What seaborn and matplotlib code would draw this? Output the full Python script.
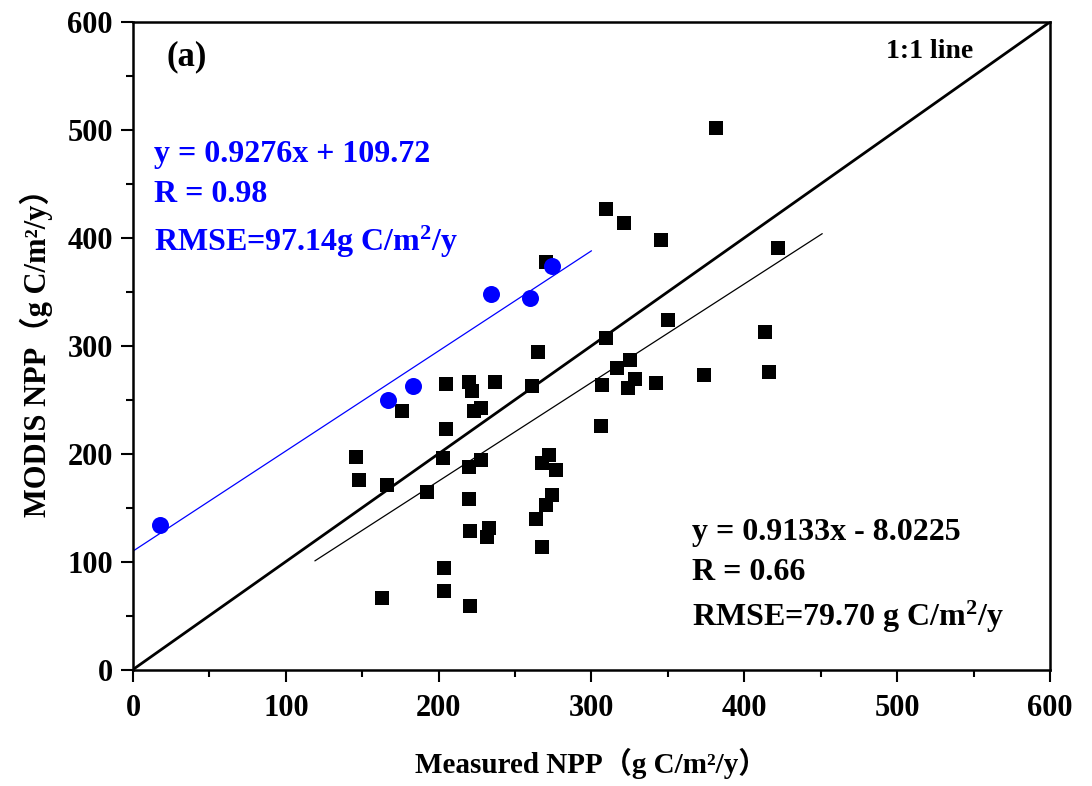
import numpy as np
import pandas as pd
import matplotlib
matplotlib.use("Agg")
import matplotlib.pyplot as plt
import seaborn as sns
from matplotlib.ticker import MultipleLocator

# ---- data ----
blue_x = [17.5, 167, 183, 234, 259.6, 274]
blue_y = [134, 250, 263, 347.7, 344, 373.7]

black_x = [381.7, 309.8, 321.6, 345.7, 422, 270, 350.3, 413.6, 309.2, 264.8,
           324.9, 316.4, 328.8, 323.6, 341.9, 306.6, 373.8, 416.2, 261, 236.7,
           219.8, 221.7, 204.7, 176, 227.6, 223, 204.7, 306, 146, 202.8,
           227.6, 219.8, 272, 267.4, 276.6, 148, 166.3, 192.4, 274, 270,
           219.8, 263.5, 232.8, 220.4, 231.5, 267.4, 203.5, 203.5, 163, 220.4]
black_y = [501.9, 426.6, 413.6, 397.8, 390.4, 377.4, 323.6, 312.4, 306.9, 293.9,
           286.5, 279.1, 268.9, 260.5, 265.2, 263.4, 272.7, 275.5, 262.3, 266,
           266, 257.7, 264.2, 240, 241.9, 239.1, 223.1, 226, 197.3, 196.4,
           194.5, 188, 199.2, 191.7, 185.2, 175.9, 171.3, 164.8, 162, 152.7,
           158.3, 139.8, 131.5, 128.7, 123, 113.7, 94.2, 72.8, 66.3, 59]

blue_fit = (0.9276, 109.72)
blue_fit_range = [0, 300]
black_fit = (0.9133, -8.0225)
black_fit_range = [119, 451]
one_one = [0, 600]

ticks = [0, 100, 200, 300, 400, 500, 600]

# ---- style ----
sns.set_theme(style="ticks")
plt.rcParams['font.family'] = ['Liberation Serif', 'Noto Sans CJK SC', 'DejaVu Sans']
plt.rcParams['font.weight'] = 'bold'
plt.rcParams['mathtext.default'] = 'regular'
for k in ['text.color', 'axes.labelcolor', 'xtick.color', 'ytick.color', 'axes.edgecolor']:
    plt.rcParams[k] = 'black'

fig = plt.figure(figsize=(10.92, 7.86), dpi=100)
ax = fig.add_axes([0.1218, 0.1482, 0.8397, 0.8238])

# 1:1 line
ax.plot(one_one, one_one, color='black', lw=2.0, zorder=1)
# regression lines
bx = np.array(blue_fit_range, dtype=float)
ax.plot(bx, blue_fit[0] * bx + blue_fit[1], color='blue', lw=0.9, zorder=1)
kx = np.array(black_fit_range, dtype=float)
ax.plot(kx, black_fit[0] * kx + black_fit[1], color='black', lw=0.9, zorder=1)

df_k = pd.DataFrame({'x': black_x, 'y': black_y})
df_b = pd.DataFrame({'x': blue_x, 'y': blue_y})
sns.scatterplot(data=df_k, x='x', y='y', marker='s', s=110, color='black',
                edgecolor='black', linewidth=0, ax=ax, zorder=3)
sns.scatterplot(data=df_b, x='x', y='y', marker='o', s=150, color='blue',
                edgecolor='blue', linewidth=0, ax=ax, zorder=3)

ax.set_xlim(0, 600)
ax.set_ylim(0, 600)
ax.set_xticks(ticks)
ax.set_yticks(ticks)
ax.xaxis.set_minor_locator(MultipleLocator(50))
ax.yaxis.set_minor_locator(MultipleLocator(50))
ax.tick_params(which='major', direction='out', length=8.5, width=1.5,
               labelsize=22, top=False, right=False)
ax.tick_params(axis='x', which='major', pad=9)
ax.tick_params(axis='y', which='major', pad=6)
ax.tick_params(which='minor', direction='out', length=5, width=1.5,
               top=False, right=False)
for lab in ax.get_xticklabels() + ax.get_yticklabels():
    lab.set_fontweight('bold')
for sp in ax.spines.values():
    sp.set_visible(True)
    sp.set_linewidth(1.8)
    sp.set_color('black')

ax.set_xlabel('Measured NPP（g C/m²/y）', fontsize=21, fontweight='bold', labelpad=18)
ax.set_ylabel('MODIS NPP（g C/m²/y）', fontsize=22, fontweight='bold', labelpad=10)

ax.text(22, 568, '(a)', fontsize=25, fontweight='bold', va='center', ha='left')
ax.text(493, 573, '1:1 line', fontsize=20, fontweight='bold', va='center', ha='left')

ax.text(14, 477, 'y = 0.9276x + 109.72', color='blue', fontsize=23, fontweight='bold', va='center')
ax.text(14, 440, 'R = 0.98', color='blue', fontsize=23, fontweight='bold', va='center')
ax.text(14, 396, 'RMSE=97.14g C/m$^2$/y', color='blue', fontsize=23, fontweight='bold', va='center')

ax.text(365.5, 126.7, 'y = 0.9133x - 8.0225', color='black', fontsize=23, fontweight='bold', va='center')
ax.text(365.5, 89.6, 'R = 0.66', color='black', fontsize=23, fontweight='bold', va='center')
ax.text(365.5, 48.7, 'RMSE=79.70 g C/m$^2$/y', color='black', fontsize=23, fontweight='bold', va='center')

fig.savefig('out.png', dpi=100, facecolor='white')
